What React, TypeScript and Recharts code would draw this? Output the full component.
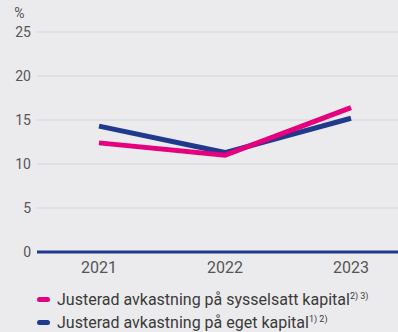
import React from 'react';
import { LineChart, Line, XAxis, YAxis, CartesianGrid } from 'recharts';

const years = ['2021', '2022', '2023'];
const sysselsattKapital = [12.4, 11.0, 16.4];
const egetKapital = [14.3, 11.3, 15.2];
const yTicks = [0, 5, 10, 15, 20, 25];

const seriesInfo = [
  { key: 'sysselsatt', name: 'Justerad avkastning på sysselsatt kapital', note: '2) 3)', color: '#E5007D' },
  { key: 'eget', name: 'Justerad avkastning på eget kapital', note: '1) 2)', color: '#1F3A8C' },
];

const data = years.map((y, i) => ({
  year: y,
  sysselsatt: sysselsattKapital[i],
  eget: egetKapital[i],
}));

const FONT = 'Roboto, "Noto Sans", sans-serif';

export default function App() {
  return (
    <div
      style={{
        position: 'fixed',
        left: 0,
        top: 0,
        width: 398,
        height: 332,
        background: '#EBEBED',
        fontFamily: FONT,
        overflow: 'hidden',
      }}
    >
      <LineChart
        width={398}
        height={332}
        data={data}
        margin={{ top: 32, right: 0, left: 0, bottom: 50 }}
      >
        <CartesianGrid horizontal vertical={false} stroke="#D5D5D8" strokeWidth={1} />
        <XAxis
          dataKey="year"
          padding={{ left: 62, right: 47 }}
          axisLine={{ stroke: '#1F3A8C', strokeWidth: 3 }}
          tickLine={false}
          tickMargin={4}
          height={30}
          tick={{ fill: '#555', fontSize: 16, fontFamily: FONT }}
        />
        <YAxis
          type="number"
          domain={[0, 25]}
          ticks={yTicks}
          width={37}
          axisLine={false}
          tickLine={false}
          tickSize={0}
          tickMargin={6}
          interval={0}
          tick={{ fill: '#555', fontSize: 14, fontFamily: FONT }}
          label={{ value: '%', position: 'top', offset: 14, dx: 1, fill: '#555', fontSize: 14, fontFamily: FONT }}
        />
        <Line
          type="linear"
          dataKey="eget"
          stroke="#1F3A8C"
          strokeWidth={5}
          dot={false}
          activeDot={false}
          isAnimationActive={false}
        />
        <Line
          type="linear"
          dataKey="sysselsatt"
          stroke="#E5007D"
          strokeWidth={5}
          dot={false}
          activeDot={false}
          isAnimationActive={false}
        />
      </LineChart>
      <div style={{ position: 'absolute', left: 37, top: 288 }}>
        {seriesInfo.map((s) => (
          <div
            key={s.key}
            style={{ display: 'flex', alignItems: 'center', height: 23, color: '#3A3A3A', fontSize: 16, whiteSpace: 'nowrap' }}
          >
            <span
              style={{
                display: 'inline-block',
                width: 13,
                height: 5,
                borderRadius: 3,
                background: s.color,
                marginRight: 7,
              }}
            />
            <span>
              {s.name}
              <sup style={{ fontSize: 9, verticalAlign: 'top', position: 'relative', top: 1 }}>{s.note}</sup>
            </span>
          </div>
        ))}
      </div>
    </div>
  );
}
